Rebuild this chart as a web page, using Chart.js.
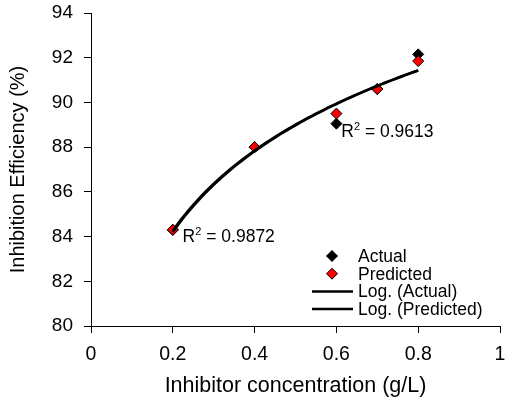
<!DOCTYPE html>
<html>
<head>
<meta charset="utf-8">
<script src="https://cdn.jsdelivr.net/npm/chart.js@4"></script>
<style>
    html, body { margin: 0; padding: 0; background: #fff; }
    #contenedor { width: 507px; height: 408px; }
</style>
</head>
<body>
<div id="contenedor"><canvas id="grafico" width="507" height="408"></canvas></div>
<script>
// 1. Datos
const concentracion = [0.2, 0.4, 0.6, 0.7, 0.8];
const eficienciaReal = [84.3, 88.0, 89.05, 90.6, 92.15];
const eficienciaPredicha = [84.3, 88.0, 89.5, 90.6, 91.85];
const ticksX = [0, 0.2, 0.4, 0.6, 0.8, 1];
const ticksY = [80, 82, 84, 86, 88, 90, 92, 94];
const textosR2 = ['0.9872', '0.9613'];

const fuente = '"Liberation Sans", Arial, sans-serif';

// 2. Ajuste logaritmico (linea de tendencia tipo Excel) a partir de los datos
function ajusteLog(xs, ys) {
    const lx = xs.map(v => Math.log(v));
    const n = xs.length;
    const mx = lx.reduce((a, b) => a + b, 0) / n;
    const my = ys.reduce((a, b) => a + b, 0) / n;
    let sxy = 0, sxx = 0;
    for (let i = 0; i < n; i++) {
        sxy += (lx[i] - mx) * (ys[i] - my);
        sxx += (lx[i] - mx) * (lx[i] - mx);
    }
    const a = sxy / sxx;
    const b = my - a * mx;
    const desde = Math.min(...xs), hasta = Math.max(...xs);
    const puntos = [];
    for (let k = 0; k <= 60; k++) {
        const x = desde + (hasta - desde) * k / 60;
        puntos.push({ x: x, y: a * Math.log(x) + b });
    }
    return puntos;
}

const puntosReal = concentracion.map((x, i) => ({ x: x, y: eficienciaReal[i] }));
const puntosPredicho = concentracion.map((x, i) => ({ x: x, y: eficienciaPredicha[i] }));

// 3. Plugins: leyenda dentro del area y etiquetas R2
const leyendaInterna = {
    id: 'leyendaInterna',
    afterDraw(chart, args, opts) {
        const c = chart.ctx;
        c.save();
        c.font = '17.5px ' + fuente;
        c.textBaseline = 'middle';
        chart.data.datasets.forEach((ds, i) => {
            const y = opts.y + i * opts.fila;
            if (ds.showLine) {
                c.strokeStyle = ds.borderColor;
                c.lineWidth = 2.5;
                c.beginPath();
                c.moveTo(opts.x - 20, y);
                c.lineTo(opts.x + 21, y);
                c.stroke();
            } else {
                c.fillStyle = ds.backgroundColor;
                c.strokeStyle = '#000';
                c.lineWidth = 1;
                c.beginPath();
                c.moveTo(opts.x, y - 5.5);
                c.lineTo(opts.x + 5.5, y);
                c.lineTo(opts.x, y + 5.5);
                c.lineTo(opts.x - 5.5, y);
                c.closePath();
                c.fill();
                c.stroke();
            }
            c.fillStyle = '#000';
            c.fillText(ds.label, opts.x + 26, y + 1);
        });
        c.restore();
    }
};

const etiquetasR2 = {
    id: 'etiquetasR2',
    afterDraw(chart, args, opts) {
        const c = chart.ctx;
        const sx = chart.scales.x, sy = chart.scales.y;
        c.save();
        c.fillStyle = '#000';
        c.textBaseline = 'alphabetic';
        opts.posiciones.forEach((p, i) => {
            let x = sx.getPixelForValue(p[0]);
            const y = sy.getPixelForValue(p[1]);
            c.font = '17.5px ' + fuente;
            c.fillText('R', x, y);
            x += c.measureText('R').width;
            c.font = '11px ' + fuente;
            c.fillText('2', x, y - 7);
            x += c.measureText('2').width;
            c.font = '17.5px ' + fuente;
            c.fillText(' = ' + textosR2[i], x, y);
        });
        c.restore();
    }
};

// 4. Grafico
window.onload = function () {
    const ctx = document.getElementById('grafico');

    new Chart(ctx, {
        type: 'scatter',
        data: {
            datasets: [
                {
                    label: 'Actual',
                    data: puntosReal,
                    backgroundColor: '#000000',
                    borderColor: '#000000',
                    borderWidth: 1,
                    pointStyle: 'rectRot',
                    pointRadius: 5.5,
                    showLine: false,
                    order: 3
                },
                {
                    label: 'Predicted',
                    data: puntosPredicho,
                    backgroundColor: '#ff0000',
                    borderColor: '#000000',
                    borderWidth: 1,
                    pointStyle: 'rectRot',
                    pointRadius: 5.5,
                    showLine: false,
                    order: 2
                },
                {
                    label: 'Log. (Actual)',
                    data: ajusteLog(concentracion, eficienciaReal),
                    borderColor: '#000000',
                    borderWidth: 2.5,
                    pointRadius: 0,
                    showLine: true,
                    order: 1
                },
                {
                    label: 'Log. (Predicted)',
                    data: ajusteLog(concentracion, eficienciaPredicha),
                    borderColor: '#000000',
                    borderWidth: 2.5,
                    pointRadius: 0,
                    showLine: true,
                    order: 0
                }
            ]
        },
        options: {
            responsive: false,
            animation: false,
            layout: { padding: { left: 0, right: 7, top: 13, bottom: 0 } },
            plugins: {
                legend: { display: false },
                tooltip: { enabled: false },
                leyendaInterna: { x: 332, y: 256, fila: 17.7 },
                etiquetasR2: { posiciones: [[0.224, 83.75], [0.612, 88.45]] }
            },
            scales: {
                x: {
                    type: 'linear',
                    min: 0,
                    max: 1,
                    afterBuildTicks: s => { s.ticks = ticksX.map(v => ({ value: v })); },
                    afterFit: s => { s.height = 82; s.paddingLeft = 0; s.paddingRight = 0; },
                    border: { display: true, color: '#000', width: 1 },
                    grid: { drawOnChartArea: false, drawTicks: true, tickLength: 7, color: '#000' },
                    ticks: {
                        color: '#000',
                        padding: 10,
                        font: { family: fuente, size: 19.5 },
                        callback: v => String(v)
                    },
                    title: {
                        display: true,
                        text: 'Inhibitor concentration (g/L)',
                        color: '#000',
                        font: { family: fuente, size: 21.5 },
                        padding: { top: 0, bottom: 9 }
                    }
                },
                y: {
                    type: 'linear',
                    min: 80,
                    max: 94,
                    afterBuildTicks: s => { s.ticks = ticksY.map(v => ({ value: v })); },
                    afterFit: s => { s.width = 91; s.paddingTop = 0; s.paddingBottom = 0; },
                    border: { display: true, color: '#000', width: 1 },
                    grid: { drawOnChartArea: false, drawTicks: true, tickLength: 7, color: '#000' },
                    ticks: {
                        color: '#000',
                        padding: 11,
                        font: { family: fuente, size: 19 },
                        callback: v => String(v)
                    },
                    title: {
                        display: true,
                        text: 'Inhibition Efficiency (%)',
                        color: '#000',
                        font: { family: fuente, size: 20 },
                        padding: { top: 6, bottom: 0 }
                    }
                }
            }
        },
        plugins: [leyendaInterna, etiquetasR2]
    });
};
</script>
</body>
</html>
